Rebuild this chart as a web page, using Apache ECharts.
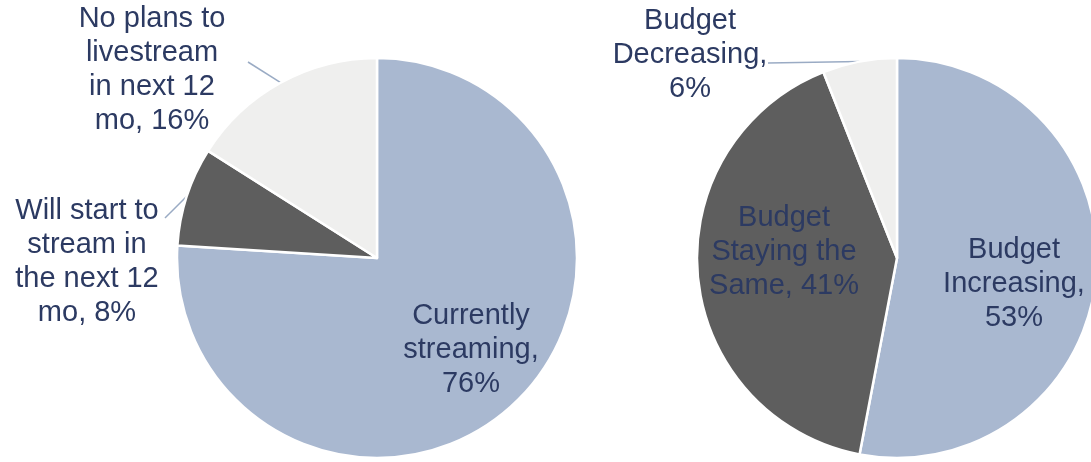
<!DOCTYPE html>
<html>
<head>
<meta charset="utf-8">
<script src="https://cdn.jsdelivr.net/npm/echarts@6/dist/echarts.min.js"></script>
<style>
  html, body { margin: 0; padding: 0; background: #ffffff; }
  #chart { width: 1091px; height: 462px; }
</style>
</head>
<body>
<div id="chart"></div>
<script>
// Livestreaming status (share of respondents, %)
const streamCategories = [
  'Currently\nstreaming',
  'Will start to\nstream in\nthe next 12\nmo',
  'No plans to\nlivestream\nin next 12\nmo'
];
const streamValues = [76, 8, 16];

// Livestreaming budget outlook (share of respondents, %)
const budgetCategories = [
  'Budget\nIncreasing',
  'Budget\nStaying the\nSame',
  'Budget\nDecreasing'
];
const budgetValues = [53, 41, 6];

// ---- styling / layout ----
const sliceColors = ['#a9b8d0', '#5e5e5e', '#efefee'];
const textColor = '#2c3a62';
const fontFamily = '"Liberation Sans", Arial, Helvetica, sans-serif';
const RADIUS = 200;

const pies = [
  {
    names: streamCategories,
    values: streamValues,
    center: [377, 258],
    pctOwnLine: [true, false, false],
    inside: [true, false, false],
    labelAt: [[471, 350], [87, 262], [152, 70]],
    leaderEnd: [null, [165, 218], [248, 62]]
  },
  {
    names: budgetCategories,
    values: budgetValues,
    center: [897, 258],
    pctOwnLine: [true, false, true],
    inside: [true, true, false],
    labelAt: [[1014, 284], [784, 252], [690, 55]],
    leaderEnd: [null, null, [768, 63]]
  }
];

// point on the rim at the middle angle of slice i (clockwise from 12 o'clock)
function rimPoint(pie, i) {
  const total = pie.values.reduce((a, b) => a + b, 0);
  let before = 0;
  for (let k = 0; k < i; k++) before += pie.values[k];
  const mid = (before + pie.values[i] / 2) / total * Math.PI * 2;
  return [pie.center[0] + RADIUS * Math.sin(mid), pie.center[1] - RADIUS * Math.cos(mid)];
}

const chart = echarts.init(document.getElementById('chart'), null, { renderer: 'canvas' });

const series = pies.map(pie => ({
  type: 'pie',
  center: pie.center,
  radius: RADIUS,
  startAngle: 90,
  clockwise: true,
  avoidLabelOverlap: false,
  silent: true,
  animation: false,
  itemStyle: { borderColor: '#ffffff', borderWidth: 2.5 },
  label: {
    color: textColor,
    fontFamily: fontFamily,
    fontSize: 29,
    lineHeight: 34,
    align: 'center',
    formatter: p => p.name + (pie.pctOwnLine[p.dataIndex] ? ',\n' : ', ') + p.value + '%'
  },
  labelLine: {
    lineStyle: { color: '#9aabc4', width: 1.5 },
    length: 10,
    length2: 10,
    smooth: false
  },
  labelLayout: params => {
    const i = params.dataIndex;
    const out = {
      x: pie.labelAt[i][0],
      y: pie.labelAt[i][1],
      align: 'center',
      verticalAlign: 'middle'
    };
    if (pie.leaderEnd[i]) {
      out.labelLinePoints = [rimPoint(pie, i), pie.leaderEnd[i], pie.leaderEnd[i]];
    }
    return out;
  },
  data: pie.values.map((v, i) => ({
    name: pie.names[i],
    value: v,
    itemStyle: { color: sliceColors[i] },
    label: { position: pie.inside[i] ? 'inside' : 'outside' },
    labelLine: { show: !pie.inside[i] }
  }))
}));

chart.setOption({
  backgroundColor: '#ffffff',
  animation: false,
  series: series
});
</script>
</body>
</html>
